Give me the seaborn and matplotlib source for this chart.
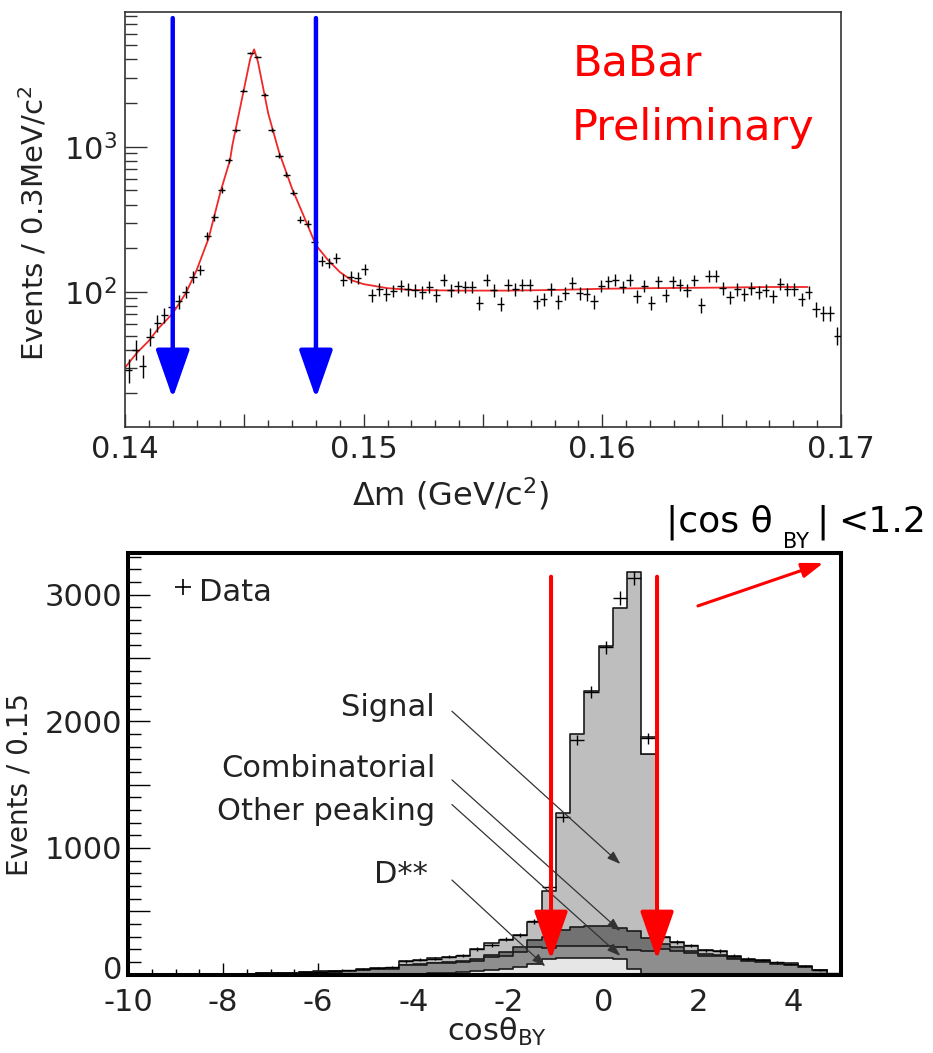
import numpy as np
import pandas as pd
import matplotlib
matplotlib.use("Agg")
import matplotlib.pyplot as plt
import matplotlib.transforms as mtransforms
import seaborn as sns
from matplotlib.ticker import FixedLocator, MultipleLocator, LogLocator, NullFormatter, FuncFormatter

# ------------------------------------------------------------------ data
# top panel: delta m spectrum (100 bins of 0.3 MeV from 0.14 to 0.17 GeV)
dm_range = [0.14, 0.17]
dm_bin = 0.0003
dm_counts = [29, 40, 31, 49, 61, 69, 78, 86, 100, 127,
             142, 243, 327, 505, 805, 1298, 2443, 4427, 4150, 2286,
             1309, 870, 641, 484, 314, 295, 219, 164, 158, 172,
             121, 127, 125, 143, 95, 104, 97, 102, 110, 104,
             103, 99, 108, 95, 121, 103, 109, 108, 108, 84,
             121, 103, 83, 112, 104, 112, 112, 86, 89, 104,
             86, 98, 115, 98, 97, 86, 110, 118, 121, 108,
             121, 94, 110, 84, 118, 95, 118, 112, 103, 120,
             81, 129, 129, 106, 92, 104, 97, 106, 99, 103,
             94, 114, 104, 104, 89, 99, 76, 71, 71, 50]
fit_dm = [0.1400, 0.1405, 0.1410, 0.1414, 0.1420, 0.14255, 0.1430, 0.1435, 0.1440,
          0.1444, 0.1445, 0.1450, 0.14525, 0.14541, 0.14557, 0.14578, 0.1460, 0.14645,
          0.1470, 0.1475, 0.1480, 0.1485, 0.1490, 0.1495, 0.1500, 0.1510, 0.1520,
          0.1540, 0.1560, 0.1580, 0.1600, 0.1620, 0.1650, 0.1670, 0.1686]
fit_val = [30, 38, 46, 56, 71, 98, 141, 233, 489,
           810, 1027, 2570, 4060, 4700, 3860, 2590, 1700, 924,
           515, 330, 210, 166, 137, 120, 113, 106, 103,
           102, 102, 103, 105, 106, 107, 108, 108]
dm_cuts = [0.1420, 0.1480]
dm_xticks = [0.14, 0.15, 0.16, 0.17]

# bottom panel: cos theta_BY (50 bins of 0.3 from -10 to 5)
cos_range = [-10.0, 5.0]
cos_bin = 0.3
dstarstar = [0, 0, 0, 0, 0, 0, 0, 0, 0, 0, 1, 1, 1,
             1, 2, 2, 3, 4, 5,
             6, 8, 10, 13, 17, 25, 35, 45, 60, 85,
             120, 131, 131, 131, 131, 121, 46, 0,
             0, 0, 0, 0, 0, 0, 0, 0, 0, 0, 0, 0, 0]
other_peaking = [2, 2, 3, 3, 4, 4, 5, 6, 7, 10, 11, 13, 15,
                 19, 21, 24, 33, 37, 40,
                 66, 70, 78, 82, 84, 85, 101, 105, 116, 130,
                 90, 95, 95, 95, 95, 95, 150, 190,
                 200, 190, 170, 150, 150, 125, 105, 100, 82, 78, 58, 33, 7]
combinatorial = [0, 0, 0, 0, 0, 0, 0, 0, 0, 1, 1, 1, 2,
                 2, 2, 3, 4, 4, 4,
                 5, 5, 6, 7, 8, 14, 20, 28, 40, 60,
                 90, 130, 150, 155, 155, 150, 150, 100,
                 40, 25, 15, 10, 5, 3, 2, 1, 1, 1, 0, 0, 0]
signal = [0, 0, 0, 0, 0, 0, 0, 0, 0, 1, 1, 1, 1,
          3, 3, 3, 5, 6, 6,
          30, 32, 35, 38, 40, 80, 90, 95, 100, 140,
          360, 918, 1524, 1862, 2215, 2532, 2832, 1452,
          55, 45, 41, 35, 30, 22, 18, 17, 12, 9, 7, 4, 1]
cos_data = [3, 2, 3, 4, 4, 5, 5, 7, 6, 12, 15, 16, 20,
            24, 30, 33, 44, 50, 57,
            105, 118, 127, 142, 152, 200, 234, 279, 313, 420,
            690, 1242, 1853, 2235, 2585, 2972, 3130, 1866,
            300, 255, 230, 192, 188, 148, 127, 115, 97, 86, 66, 35, 9]
# model outline above the filled signal in bin [0.8, 1.1]
gap_bin = [0.8, 1.1]
gap_levels = [1742, 1879]
cos_cuts = [-1.10, 1.13]
cos_xticks = [-10, -8, -6, -4, -2, 0, 2, 4]
cos_yticks = [0, 1000, 2000, 3000]
cos_ymajor = [0, 500, 1000, 1500, 2000, 2500, 3000]
component_labels = ["Signal", "Combinatorial", "Other peaking", "D**"]

# ------------------------------------------------------------------ style
sns.set_style("white")
plt.rcParams["font.family"] = ["DejaVu Sans"]
plt.rcParams["mathtext.fontset"] = "dejavusans"
plt.rcParams["axes.unicode_minus"] = False

W, H = 933, 1053
fig = plt.figure(figsize=(W / 100, H / 100), dpi=100)


def fpos(x, y):
    return x / W, 1 - y / H


tick_col = "#222222"

# ------------------------------------------------------------------ top panel
ax1 = fig.add_axes([125 / W, 1 - 427 / H, 716 / W, 415 / H])
edges_dm = np.linspace(dm_range[0], dm_range[1], len(dm_counts) + 1)
cent_dm = 0.5 * (edges_dm[:-1] + edges_dm[1:])
cnt = np.array(dm_counts, float)
fit_df = pd.DataFrame({"dm": fit_dm, "val": fit_val})
sns.lineplot(data=fit_df, x="dm", y="val", color="#f02828", lw=1.3, ax=ax1,
             zorder=2, estimator=None, sort=False)
ax1.errorbar(cent_dm, cnt, xerr=dm_bin / 2, yerr=np.sqrt(cnt), fmt="none",
             ecolor="black", elinewidth=1.0, capsize=0, zorder=3)
ax1.set_yscale("log")
ax1.set_xlim(dm_range)
ax1.set_ylim(11.7, 8500)
ax1.xaxis.set_major_locator(FixedLocator(np.arange(0.14, 0.17001, 0.005)))
ax1.xaxis.set_major_formatter(FuncFormatter(
    lambda v, p: (f"{v:.2f}" if any(abs(v - t) < 1e-6 for t in dm_xticks) else "")))
ax1.xaxis.set_minor_locator(MultipleLocator(0.001))
ax1.yaxis.set_major_locator(LogLocator(base=10, numticks=10))
ax1.yaxis.set_minor_locator(LogLocator(base=10, subs=np.arange(2, 10), numticks=20))
ax1.yaxis.set_minor_formatter(NullFormatter())
ax1.tick_params(axis="both", which="both", direction="in", colors="#333333",
                labelcolor=tick_col, labelsize=22, top=False, right=False,
                bottom=True, left=True, width=1.0)
ax1.tick_params(axis="y", which="major", length=16, pad=6)
ax1.tick_params(axis="y", which="minor", length=8.5)
ax1.tick_params(axis="x", which="major", length=9.5, pad=6)
ax1.tick_params(axis="x", which="minor", length=5)
for s in ax1.spines.values():
    s.set_color("#333333")
    s.set_linewidth(1.2)
ax1.set_xlabel("")
ax1.set_ylabel("")

for xc in dm_cuts:
    ax1.annotate("", xy=(xc, 18.5), xytext=(xc, 7720),
                 arrowprops=dict(arrowstyle="-|>,head_length=3.0,head_width=1.05",
                                 mutation_scale=10, lw=3.2, color="#0000ff",
                                 shrinkA=0, shrinkB=0), zorder=5)

fig.text(*fpos(34, 223), "Events / 0.3MeV/c$^2$", rotation=90, ha="center",
         va="center", fontsize=21, color=tick_col)
fig.text(*fpos(352, 505.6), "\u0394m (GeV/c$^2$)", ha="left", va="baseline",
         fontsize=23, color=tick_col)
fig.text(*fpos(573, 75), "BaBar", color="#ff0000", fontsize=31, va="baseline")
fig.text(*fpos(572, 140), "Preliminary", color="#ff0000", fontsize=31, va="baseline")

# ------------------------------------------------------------------ bottom panel
ax2 = fig.add_axes([128 / W, 1 - 974.6 / H, 713 / W, 421.6 / H])
edges_c = np.linspace(cos_range[0], cos_range[1], len(signal) + 1)
cent_c = 0.5 * (edges_c[:-1] + edges_c[1:])
d = np.array(dstarstar, float)
o = np.array(other_peaking, float)
c = np.array(combinatorial, float)
s_ = np.array(signal, float)
layers = [
    (d + o + c + s_, "#bebebe"),   # Signal
    (d + o + c, "#727272"),        # Combinatorial
    (d + o, "#8e8e8e"),            # Other peaking
    (d, "#e6e6e6"),                # D**
]
for vals, col in layers:
    hdf = pd.DataFrame({"cos": cent_c, "w": vals})
    sns.histplot(data=hdf, x="cos", weights="w", bins=list(edges_c), element="step",
                 fill=True, color=col, alpha=1, edgecolor="#1a1a1a", linewidth=1.2,
                 ax=ax2)
ax2.bar(np.mean(gap_bin), gap_levels[1] - gap_levels[0], bottom=gap_levels[0],
        width=gap_bin[1] - gap_bin[0], color="white", edgecolor="#1a1a1a", lw=1.2)

cd = np.array(cos_data, float)
ax2.errorbar(cent_c, cd, xerr=cos_bin / 2, yerr=np.sqrt(cd), fmt="none",
             ecolor="black", elinewidth=1.0, capsize=0, zorder=4)

ax2.set_xlim(cos_range)
ax2.set_ylim(0, 3330)
ax2.set_xlabel("")
ax2.set_ylabel("")
ax2.xaxis.set_major_locator(FixedLocator(cos_xticks))
ax2.xaxis.set_minor_locator(MultipleLocator(0.5))
ax2.yaxis.set_major_locator(FixedLocator(cos_ymajor))
ax2.yaxis.set_major_formatter(FuncFormatter(
    lambda v, p: (f"{int(round(v))}" if int(round(v)) in cos_yticks else "")))
ax2.yaxis.set_minor_locator(MultipleLocator(100))
ax2.tick_params(axis="both", which="both", direction="in", colors="black",
                labelcolor=tick_col, labelsize=22, top=False, right=False,
                bottom=True, left=True, width=1.0)
ax2.tick_params(axis="y", which="major", length=16, pad=4)
ax2.tick_params(axis="y", which="minor", length=9)
ax2.tick_params(axis="x", which="major", length=9, pad=10)
ax2.tick_params(axis="x", which="minor", length=4.5)
for s in ax2.spines.values():
    s.set_color("black")
    s.set_linewidth(2.9)

# lift the "0" y label slightly so it clears the "-10" x label
ymaj = ax2.yaxis.get_major_ticks(len(cos_ymajor))
ymaj[0].label1.set_transform(ymaj[0].label1.get_transform() +
                             mtransforms.ScaledTranslation(0, 7 / 100, fig.dpi_scale_trans))

# component labels with pointer arrows
lab_pos = [(-3.537, 2043), (-3.537, 1558), (-3.537, 1223), (-3.684, 720)]
arr_from = [(-3.185, 2080), (-3.185, 1538), (-3.185, 1343), (-3.185, 747)]
arr_to = [(0.358, 874), (0.358, 344), (0.358, 148), (-1.221, 65)]
for lab, lp, a0, a1 in zip(component_labels, lab_pos, arr_from, arr_to):
    ax2.text(lp[0], lp[1], lab, ha="right", va="baseline", fontsize=22, color=tick_col)
    ax2.annotate("", xy=a1, xytext=a0,
                 arrowprops=dict(arrowstyle="-|>,head_length=0.8,head_width=0.28",
                                 mutation_scale=10, lw=0.9, color="#333333",
                                 shrinkA=0, shrinkB=0), zorder=5)

# legend "+ Data"
ax2.plot([0.0771], [0.920], marker="+", ms=11, mew=1.2, color="black",
         transform=ax2.transAxes, clip_on=False)
ax2.text(0.0996, 0.8869, "Data", transform=ax2.transAxes, fontsize=22,
         va="baseline", color=tick_col)

# red cut arrows
for xc in cos_cuts:
    ax2.annotate("", xy=(xc, 120), xytext=(xc, 3143),
                 arrowprops=dict(arrowstyle="-|>,head_length=3.0,head_width=1.05",
                                 mutation_scale=10, lw=2.9, color="#ff0000",
                                 shrinkA=0, shrinkB=0), zorder=6)
ax2.annotate("", xy=(4.63, 3251), xytext=(1.99, 2912),
             arrowprops=dict(arrowstyle="-|>,head_length=1.3,head_width=0.45",
                             mutation_scale=10, lw=2.2, color="#ff0000",
                             shrinkA=0, shrinkB=0), zorder=6, annotation_clip=False)

fig.text(*fpos(497.5, 1040.6), "cos\u03b8$_{\\mathregular{BY}}$", ha="center",
         va="baseline", fontsize=22, color=tick_col)
fig.text(*fpos(20, 785), "Events / 0.15", rotation=90, ha="center", va="center",
         fontsize=20, color=tick_col)

# cut annotation
fig.text(*fpos(666, 531.7), "|cos \u03b8", fontsize=26, va="baseline", color="black")
fig.text(*fpos(783, 548), "BY", fontsize=15, va="baseline", color="black")
fig.text(*fpos(816, 531.7), "|", fontsize=26, va="baseline", color="black")
fig.text(*fpos(926, 531.7), "<1.2", fontsize=26, va="baseline", ha="right", color="black")

fig.savefig("out.png", dpi=100, facecolor="white")
